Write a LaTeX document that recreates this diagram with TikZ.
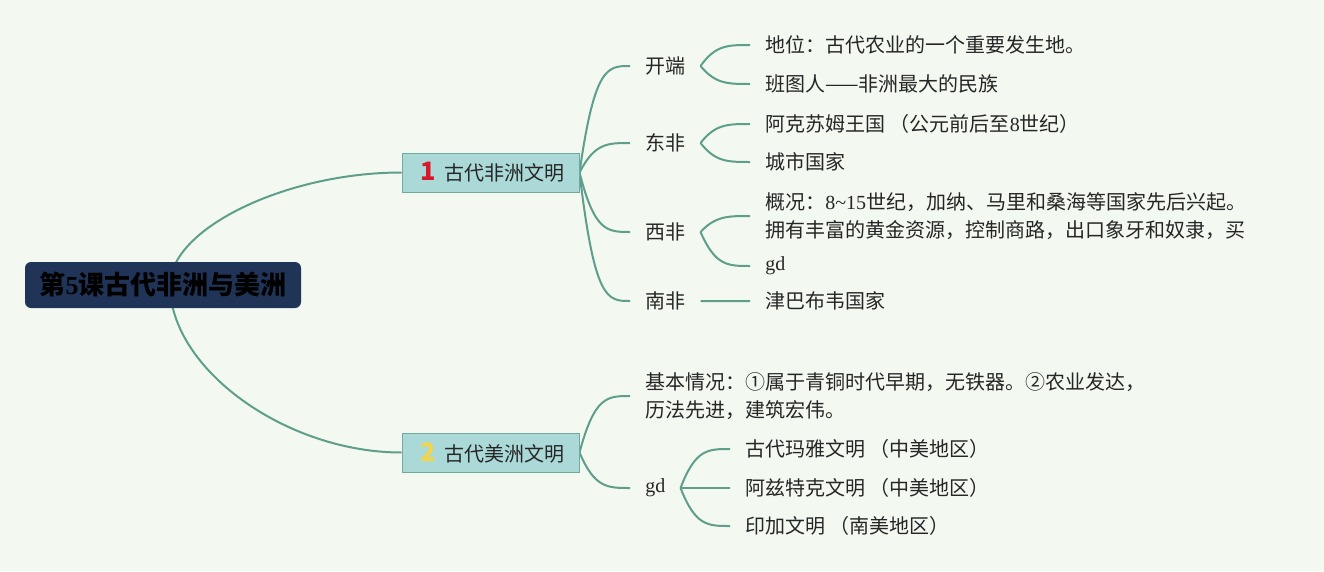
\documentclass[tikz,border=0pt]{standalone}
\usepackage{fontspec}
\setmainfont{Liberation Serif}
\newfontfamily\cjk{Noto Sans CJK SC}
\usetikzlibrary{positioning,calc,backgrounds}
\definecolor{bgmint}{HTML}{F3F9F1}
\definecolor{linkgreen}{HTML}{5E9E8B}
\definecolor{rootnavy}{HTML}{1F3457}
\definecolor{boxcyan}{HTML}{AAD9D7}
\definecolor{boxedge}{HTML}{6FAA9C}
\definecolor{numred}{HTML}{D41A2C}
\definecolor{numyellow}{HTML}{F4D54A}
\newcommand\lat[1]{{\rmfamily #1}}
\tikzset{
  mlink/.style={draw=linkgreen, line width=1.5pt},
  rootbox/.style={fill=rootnavy, rounded corners=4.5pt, minimum width=207pt, minimum height=34.5pt,
    inner sep=0pt, text=black, font=\cjk\bfseries\fontsize{19.5}{22}\selectfont},
  topicbox/.style={fill=boxcyan, draw=boxedge, line width=0.75pt, minimum width=132.75pt,
    minimum height=29.25pt, inner sep=0pt},
  leaf/.style={anchor=west, align=left}
}
% curved branch: leaves A, ends level at B
\newcommand\mlink[2]{\draw[mlink] (#1) .. controls ($(#1|-#2)!0.3!(#2)$) and ($(#1|-#2)!0.55!(#2)$) .. (#2);}
% quarter-ellipse branch out of the root
\newcommand\rlink[2]{\draw[mlink] (#1) .. controls ($(#1)!0.5!(#1|-#2)$) and ($(#2)!0.5!(#1|-#2)$) .. (#2);}
\begin{document}
\begin{tikzpicture}[x=0.75pt, y=-0.75pt,
  every node/.style={font=\cjk\fontsize{15}{21}\selectfont, inner xsep=11.25pt, inner ysep=2pt, text=black!85}]
  \useasboundingbox (0,0) rectangle (1324,571);

  % root and main topics
  \node[rootbox] (root) at (163,285) {第\lat{5}课古代非洲与美洲};
  \node[topicbox] (afr) at (490.5,172.5) {\hspace{3pt}{\bfseries\color{numred}\fontsize{19}{19}\selectfont 1}\hspace{6pt}古代非洲文明};
  \node[topicbox] (ame) at (490.5,452.5) {\hspace{3pt}{\bfseries\color{numyellow}\fontsize{19}{19}\selectfont 2}\hspace{6pt}古代美洲文明};
  \coordinate (hub) at (170,285);

  % Africa
  \node[leaf] (kd) at (630,66) {开端};
  \node[leaf] (df) at (630,143) {东非};
  \node[leaf] (xf) at (630,232) {西非};
  \node[leaf] (nf) at (630,301) {南非};
  \node[leaf] (kd1) at (750,45) {地位：古代农业的一个重要发生地。};
  \node[leaf] (kd2) at (750,84) {班图人——非洲最大的民族};
  \node[leaf] (df1) at (750,124) {阿克苏姆王国 （公元前后至\lat{8}世纪）};
  \node[leaf] (df2) at (750,162) {城市国家};
  \node[leaf] (xf1) at (750,216) {概况：\lat{8\textasciitilde15}世纪，加纳、马里和桑海等国家先后兴起。\\拥有丰富的黄金资源，控制商路，出口象牙和奴隶，买};
  \node[leaf] (xf2) at (750,266) {\lat{gd}};
  \node[leaf] (nf1) at (750,301) {津巴布韦国家};

  % Americas
  \node[leaf] (jb) at (630,396) {基本情况：①属于青铜时代早期，无铁器。②农业发达，\\历法先进，建筑宏伟。};
  \node[leaf] (gd) at (630,488) {\lat{gd}};
  \node[leaf] (my) at (730,449) {古代玛雅文明 （中美地区）};
  \node[leaf] (az) at (730,488) {阿兹特克文明 （中美地区）};
  \node[leaf] (yj) at (730,526) {印加文明 （南美地区）};

  \begin{scope}[on background layer]
    \fill[bgmint] (0,0) rectangle (1324,571);
    \rlink{hub}{afr.west}
    \rlink{hub}{ame.west}
    \mlink{afr.east}{kd.west}
    \mlink{afr.east}{df.west}
    \mlink{afr.east}{xf.west}
    \mlink{afr.east}{nf.west}
    \mlink{kd.east}{kd1.west}
    \mlink{kd.east}{kd2.west}
    \mlink{df.east}{df1.west}
    \mlink{df.east}{df2.west}
    \mlink{xf.east}{xf1.west}
    \mlink{xf.east}{xf2.west}
    \mlink{nf.east}{nf1.west}
    \mlink{ame.east}{jb.west}
    \mlink{ame.east}{gd.west}
    \mlink{gd.east}{my.west}
    \mlink{gd.east}{az.west}
    \mlink{gd.east}{yj.west}
  \end{scope}
\end{tikzpicture}
\end{document}
